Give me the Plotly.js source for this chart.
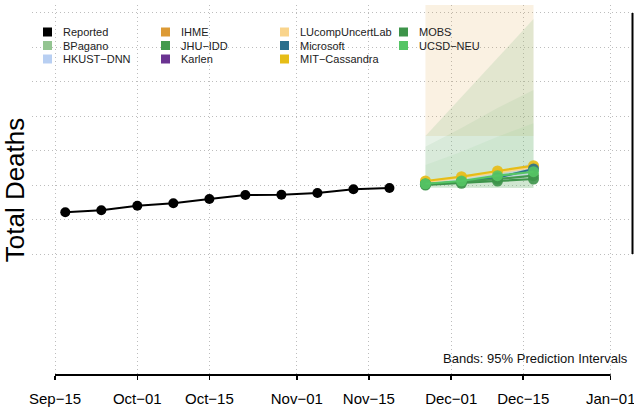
<!DOCTYPE html>
<html><head><meta charset="utf-8">
<script src="https://cdn.plot.ly/plotly-3.0.1.min.js"></script>
<style>html,body{margin:0;padding:0;background:#fff}#chart{width:634px;height:408px}</style>
</head><body><div id="chart"></div>
<script>
// ---- data ----
const reportedDates = ['2020-09-17','2020-09-24','2020-10-01','2020-10-08','2020-10-15','2020-10-22','2020-10-29','2020-11-05','2020-11-12','2020-11-19'];
const reportedDeaths = [7211, 7269, 7403, 7473, 7597, 7714, 7722, 7772, 7879, 7917];
const forecastDates = ['2020-11-26','2020-12-03','2020-12-10','2020-12-17'];

const mitCassandra = [8120, 8245, 8411, 8565];
const lucompUncertLab = [8090, 8220, 8370, 8520];
const microsoft = [8024, 8100, 8216, 8469];
const jhuIdd = [8033, 8091, 8178, 8274];
const mobs = [8004, 8053, 8120, 8178];
const ucsdNeu = [8040, 8120, 8274, 8390];

// 95% prediction interval bands
const ihmeLower = [9430, 9430, 9430, 9430];
const ihmeUpper = [14500, 14500, 14500, 14500];
const bpaganoLower = [7925, 7922, 7920, 7918];
const bpaganoUpper = [9427, 10569, 11693, 12825];
const mobsLower = [7930, 7926, 7922, 7920];
const mobsUpper = [9116, 9660, 10240, 10763];
const ucsdLower = [7935, 7930, 7925, 7922];
const ucsdUpper = [8585, 8971, 9407, 9796];
const hkustLower = [8000, 8040, 8120, 8250];
const hkustUpper = [8060, 8170, 8350, 8650];

const tickDates = ['2020-09-15','2020-10-01','2020-10-15','2020-11-01','2020-11-15','2020-12-01','2020-12-15','2021-01-01'];
const tickLabels = ['Sep\u221215','Oct\u221201','Oct\u221215','Nov\u221201','Nov\u221215','Dec\u221201','Dec\u221215','Jan\u221201'];
const gridValues = [6000, 7000, 8000, 9000, 10000, 11000, 12000, 13000];

const legendNames = ['Reported','BPagano','HKUST\u2212DNN','IHME','JHU\u2212IDD','Karlen','LUcompUncertLab','Microsoft','MIT\u2212Cassandra','MOBS','UCSD\u2212NEU'];
const legendColors = ['#000000','#93c491','#b8cff2','#dc9a35','#449a4e','#6a3391','#f9d48c','#2a6f8c','#e6bd17','#3d944a','#55c565'];

// ---- geometry helpers (pixel -> paper) ----
const W = 634, H = 408, L = 32, T = 5, B = 33;
const PW = W - L, PH = H - T - B;
const px = x => (x - L) / PW;
const py = y => (H - B - y) / PH;

function band(lower, upper, color) {
  return {
    x: forecastDates.concat(forecastDates.slice().reverse()),
    y: upper.concat(lower.slice().reverse()),
    type: 'scatter', mode: 'lines', fill: 'toself', fillcolor: color,
    line: {width: 0}, hoverinfo: 'skip', showlegend: false
  };
}
function fc(vals, color, name) {
  return {
    x: forecastDates, y: vals, name: name, type: 'scatter', mode: 'lines+markers',
    line: {color: color, width: 2.2}, marker: {color: color, size: 11, opacity: 0.9},
    showlegend: false
  };
}

const traces = [
  band(ihmeLower, ihmeUpper, 'rgba(221,153,51,0.14)'),
  band(bpaganoLower, bpaganoUpper, 'rgba(147,196,145,0.23)'),
  band(mobsLower, mobsUpper, 'rgba(62,150,76,0.08)'),
  band(ucsdLower, ucsdUpper, 'rgba(85,197,101,0.08)'),
  band(hkustLower, hkustUpper, 'rgba(160,190,235,0.35)'),
  {x: reportedDates, y: reportedDeaths, name: 'Reported', type: 'scatter', mode: 'lines+markers',
   line: {color: '#000', width: 2}, marker: {color: '#000', size: 10}, showlegend: false},
  fc(lucompUncertLab, '#f9d48c', 'LUcompUncertLab'),
  fc(mitCassandra, '#e6bd17', 'MIT-Cassandra'),
  fc(microsoft, '#2a6f8c', 'Microsoft'),
  fc(jhuIdd, '#449a4e', 'JHU-IDD'),
  fc(mobs, '#3d944a', 'MOBS'),
  fc(ucsdNeu, '#55c565', 'UCSD-NEU')
];

// legend built as annotations + square swatches (column-major, 3 rows)
const colSwatchX = [43, 161, 280, 399];
const colTextX = [61, 179, 298, 417];
const rowY = [32, 45.5, 59];
const shapes = [];
const annotations = [];
legendNames.forEach((n, i) => {
  const c = Math.floor(i / 3), r = i % 3;
  shapes.push({type: 'rect', xref: 'paper', yref: 'paper',
    x0: px(colSwatchX[c]), x1: px(colSwatchX[c] + 9), y0: py(rowY[r] + 4.5), y1: py(rowY[r] - 4.5),
    fillcolor: legendColors[i], line: {width: 0}, layer: 'above'});
  annotations.push({xref: 'paper', yref: 'paper', x: px(colTextX[c]), y: py(rowY[r]),
    xanchor: 'left', yanchor: 'middle', text: n, showarrow: false,
    font: {size: 11, color: '#222'}});
});
annotations.push({xref: 'paper', yref: 'paper', x: px(630), y: py(358), xanchor: 'right', yanchor: 'middle',
  text: 'Bands: 95% Prediction Intervals', showarrow: false, font: {size: 13, color: '#111'}});

// R-style axis lines spanning the tick range
shapes.push({type: 'line', xref: 'x', yref: 'paper', x0: tickDates[0], x1: tickDates[tickDates.length - 1],
  y0: 0, y1: 0, line: {color: '#000', width: 2}});
shapes.push({type: 'line', xref: 'paper', yref: 'y', x0: px(632.5), x1: px(632.5),
  y0: gridValues[0], y1: gridValues[gridValues.length - 1], line: {color: '#000', width: 2}});

const gridDash = '1px,3px';
const layout = {
  width: W, height: H,
  margin: {l: L, r: 0, t: T, b: B, pad: 0},
  paper_bgcolor: '#fff', plot_bgcolor: '#fff',
  font: {family: 'Liberation Sans, Arial, sans-serif', color: '#000'},
  showlegend: false,
  xaxis: {type: 'date', range: ['2020-09-10 12:44', '2021-01-05 12:43'],
    tickmode: 'array', tickvals: tickDates, ticktext: tickLabels,
    ticks: 'outside', ticklen: 4, tickwidth: 1.5, tickcolor: '#000',
    tickfont: {size: 15, color: '#000'}, ticklabelstandoff: 6, ticklabeloverflow: 'allow',
    showgrid: true, gridcolor: '#bdbdbd', griddash: gridDash, gridwidth: 1,
    showline: false, zeroline: false, automargin: false},
  yaxis: {range: [2486, 13232], tickmode: 'array', tickvals: gridValues, showticklabels: false, ticks: '',
    showgrid: true, gridcolor: '#bdbdbd', griddash: gridDash, gridwidth: 1,
    zeroline: false, showline: false, automargin: false,
    title: {text: 'Total Deaths', font: {size: 26, color: '#000'}, standoff: 0}},
  shapes: shapes,
  annotations: annotations
};

Plotly.newPlot('chart', traces, layout, {displayModeBar: false, staticPlot: true});
</script>
</body></html>
